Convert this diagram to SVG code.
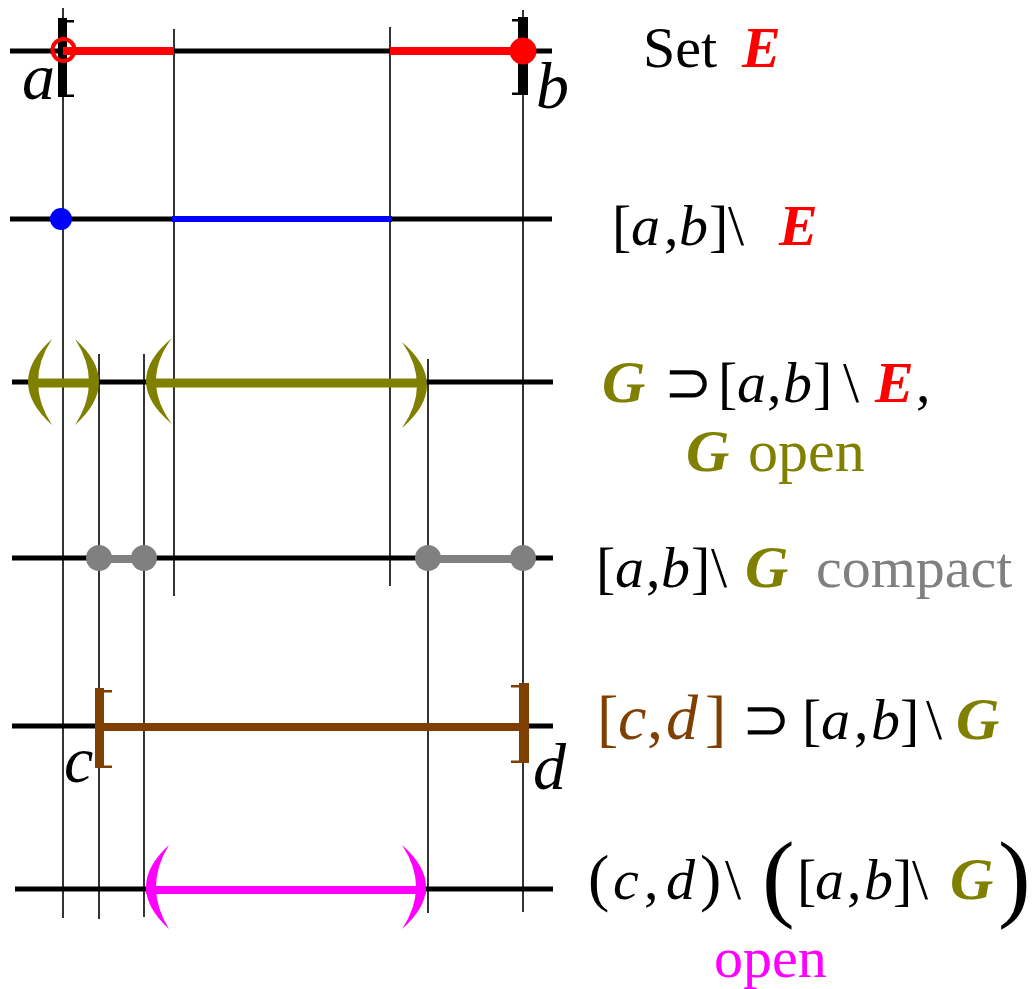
<svg xmlns="http://www.w3.org/2000/svg" width="1033" height="989" viewBox="0 0 1033 989">
<style>
.ax{stroke:#000;stroke-width:5;fill:none}
.vl{stroke:#000;stroke-width:1.6;fill:none}
text{font-family:'Liberation Serif','Times New Roman',serif}
.t{font-size:58px;fill:#000}
.i{font-style:italic}
.bi{font-style:italic;font-weight:bold}
.red{fill:#FF0000}
.ol{fill:#808000}
.gr{fill:#808080}
.br{fill:#7F3F00}
.mg{fill:#FF00FF}
.big{font-size:64px}
.huge{font-size:98px}
</style>
<rect width="1033" height="989" fill="#fff"/>
<g id="connectors">
<line class="vl" x1="63" y1="8" x2="63" y2="918"/>
<line class="vl" x1="174" y1="29" x2="174" y2="596"/>
<line class="vl" x1="390" y1="27" x2="390" y2="586"/>
<line class="vl" x1="523" y1="10" x2="523" y2="912"/>
<line class="vl" x1="99" y1="354" x2="99" y2="919"/>
<line class="vl" x1="144" y1="354" x2="144" y2="917"/>
<line class="vl" x1="428" y1="359" x2="428" y2="913"/>
</g>
<g id="row1">
<line class="ax" x1="10" y1="51" x2="552" y2="51"/>
<path d="M58,18H67V20H74V22.5H67V94.5H74V97H58Z" fill="#000"/>
<path d="M518,17H528V95H512V92.5H518V21.5H512V19H518Z" fill="#000"/>
<line x1="63" y1="51" x2="174" y2="51" stroke="#FF0000" stroke-width="8"/>
<line x1="390" y1="51" x2="523" y2="51" stroke="#FF0000" stroke-width="8"/>
<circle cx="63.5" cy="50" r="11" fill="none" stroke="#FF0000" stroke-width="4"/>
<circle cx="523" cy="51" r="13.5" fill="#FF0000"/>
<text x="22" y="99" class="t i" style="font-size:66px">a</text>
<text x="536" y="108" class="t i" style="font-size:66px">b</text>
<text x="643" y="67" class="t">Set</text>
<text x="742" y="67" class="t bi red">E</text>
</g>
<g id="row2">
<line class="ax" x1="10" y1="219" x2="552" y2="219"/>
<line x1="172" y1="219" x2="392" y2="219" stroke="#0000FF" stroke-width="6"/>
<circle cx="61" cy="219" r="11" fill="#0000FF"/>
<text class="t" y="245"><tspan x="612">[</tspan><tspan x="631" class="i">a</tspan><tspan x="664">,</tspan><tspan x="679" class="i">b</tspan><tspan x="709">]</tspan><tspan x="728">\</tspan><tspan x="779" class="bi red">E</tspan></text>
</g>
<g id="row3">
<line class="ax" x1="12" y1="382" x2="553" y2="382"/>
<line x1="30" y1="383" x2="96" y2="383" stroke="#808000" stroke-width="9"/>
<line x1="150" y1="383" x2="424" y2="383" stroke="#808000" stroke-width="9"/>
<path d="M52,339Q4,382 52,425Q24,382 52,339Z" fill="#808000"/>
<path d="M75,339Q123,382 75,425Q103,382 75,339Z" fill="#808000"/>
<path d="M172,338Q120,381 172,424Q140,381 172,338Z" fill="#808000"/>
<path d="M402,342Q452,385 402,428Q432,385 402,342Z" fill="#808000"/>
<text class="t" y="402"><tspan x="602" class="bi ol" style="font-size:60px">G</tspan><tspan x="664">⊃</tspan><tspan x="718">[</tspan><tspan x="737" class="i">a</tspan><tspan x="767">,</tspan><tspan x="783" class="i">b</tspan><tspan x="813">]</tspan><tspan x="843">\</tspan><tspan x="875" class="bi red">E</tspan><tspan x="916">,</tspan></text>
<text class="t ol" y="471" style="font-size:60px"><tspan x="686" class="bi">G</tspan><tspan x="748">open</tspan></text>
</g>
<g id="row4">
<line class="ax" x1="12" y1="558" x2="553" y2="558"/>
<line x1="99" y1="559" x2="144" y2="559" stroke="#808080" stroke-width="8"/>
<line x1="428" y1="559" x2="523" y2="559" stroke="#808080" stroke-width="8"/>
<circle cx="99" cy="558" r="13" fill="#808080"/>
<circle cx="144" cy="558" r="13" fill="#808080"/>
<circle cx="428" cy="558" r="13" fill="#808080"/>
<circle cx="523" cy="558" r="13" fill="#808080"/>
<text class="t" y="587"><tspan x="596">[</tspan><tspan x="615" class="i">a</tspan><tspan x="646">,</tspan><tspan x="661" class="i">b</tspan><tspan x="691">]</tspan><tspan x="711">\</tspan><tspan x="745" class="bi ol" style="font-size:60px">G</tspan><tspan x="816" class="gr">compact</tspan></text>
</g>
<g id="row5">
<line class="ax" x1="12" y1="726" x2="553" y2="726"/>
<line x1="100" y1="727" x2="522" y2="727" stroke="#7F3F00" stroke-width="8"/>
<path d="M95,688H104V690H112V692.5H104V765.5H112V768H95Z" fill="#7F3F00"/>
<path d="M519,683H529V763H511V760.5H519V687.5H511V685H519Z" fill="#7F3F00"/>
<text x="64" y="782" class="t i" style="font-size:66px">c</text>
<text x="533" y="789" class="t i" style="font-size:66px">d</text>
<text class="t" y="739"><tspan x="597" class="br big">[</tspan><tspan x="618" class="i br big">c</tspan><tspan x="647" class="br big">,</tspan><tspan x="666" class="i br big">d</tspan><tspan x="705" class="br big">]</tspan><tspan x="742">⊃</tspan><tspan x="802">[</tspan><tspan x="821" class="i">a</tspan><tspan x="854">,</tspan><tspan x="871" class="i">b</tspan><tspan x="900">]</tspan><tspan x="926">\</tspan><tspan x="956" class="bi ol" style="font-size:60px">G</tspan></text>
</g>
<g id="row6">
<line class="ax" x1="15" y1="889" x2="553" y2="889"/>
<line x1="146" y1="890" x2="426" y2="890" stroke="#FF00FF" stroke-width="8"/>
<path d="M169,845Q123,887 169,929Q143,887 169,845Z" fill="#FF00FF"/>
<path d="M402,845Q450,887 402,929Q430,887 402,845Z" fill="#FF00FF"/>
<text class="t" y="899"><tspan x="588" class="big">(</tspan><tspan x="613" class="i">c</tspan><tspan x="644">,</tspan><tspan x="666" class="i">d</tspan><tspan x="700" class="big">)</tspan><tspan x="725">\</tspan><tspan x="762" y="909" class="huge">(</tspan><tspan x="797" y="899">[</tspan><tspan x="815" class="i">a</tspan><tspan x="847">,</tspan><tspan x="864" class="i">b</tspan><tspan x="893">]</tspan><tspan x="912">\</tspan><tspan x="950" class="bi ol" style="font-size:60px">G</tspan><tspan x="998" y="909" class="huge">)</tspan></text>
<text x="714" y="977" class="t mg">open</text>
</g>
</svg>
